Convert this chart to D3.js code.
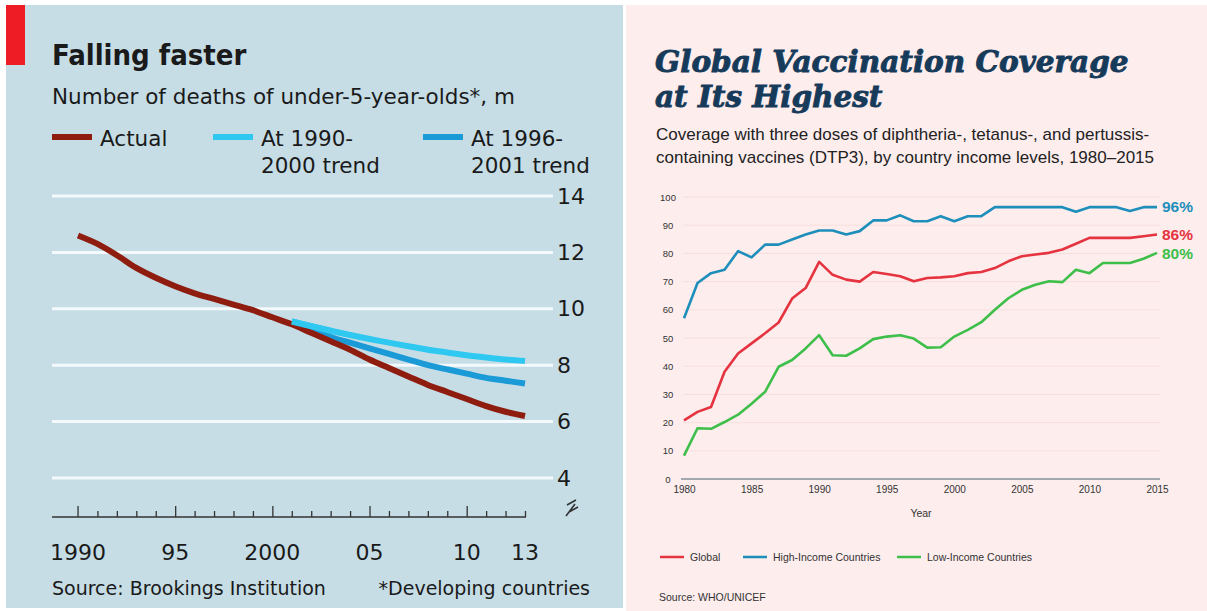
<!DOCTYPE html>
<html>
<head>
<meta charset="utf-8">
<script src="https://cdn.jsdelivr.net/npm/d3@7"></script>
<style>
    body { margin: 0; background: #ffffff; }
    svg { display: block; }
</style>
</head>
<body>
<div id="graph"></div>
<script>
// Left chart: under-5 deaths, millions
const yearsL = [1990, 1991, 1992, 1993, 1994, 1995, 1996, 1997, 1998, 1999, 2000, 2001,
    2002, 2003, 2004, 2005, 2006, 2007, 2008, 2009, 2010, 2011, 2012, 2013];
const actual = [12.6, 12.3, 11.9, 11.45, 11.1, 10.8, 10.55, 10.35, 10.15, 9.95, 9.7, 9.45,
    9.15, 8.85, 8.55, 8.2, 7.9, 7.6, 7.3, 7.05, 6.8, 6.55, 6.35, 6.2];
const trendYears = [2001, 2002, 2003, 2004, 2005, 2006, 2007, 2008, 2009, 2010, 2011, 2012, 2013];
const trend9000 = [9.55, 9.38, 9.22, 9.07, 8.93, 8.8, 8.67, 8.55, 8.45, 8.35, 8.27, 8.2, 8.15];
const trend9601 = [9.5, 9.25, 9.0, 8.8, 8.6, 8.4, 8.2, 8.0, 7.85, 7.7, 7.55, 7.45, 7.35];
const yTicksL = [4, 6, 8, 10, 12, 14];
const xLabelsL = [[1990, "1990"], [1995, "95"], [2000, "2000"], [2005, "05"], [2010, "10"], [2013, "13"]];

// Right chart: DTP3 coverage, %
const yearsR = d3.range(1980, 2016);
const globalCov = [20.8, 23.8, 25.5, 38, 44.5, 48.1, 51.7, 55.5, 64, 67.7, 77, 72.4, 70.7, 70,
    73.4, 72.7, 71.9, 70.1, 71.3, 71.5, 71.9, 73, 73.4, 74.8, 77.2, 79, 79.6, 80.2, 81.4, 83.4,
    85.5, 85.5, 85.5, 85.5, 86.1, 86.7];
const highCov = [57, 69.5, 73, 74.2, 80.8, 78.6, 83.1, 83.1, 84.9, 86.7, 88.1, 88.1, 86.7, 87.9,
    91.7, 91.7, 93.5, 91.4, 91.4, 93.2, 91.4, 93.2, 93.2, 96.4, 96.4, 96.4, 96.4, 96.4, 96.4, 94.8,
    96.4, 96.4, 96.4, 95, 96.4, 96.4];
const lowCov = [8.3, 18, 17.8, 20.2, 22.8, 26.7, 30.9, 39.8, 42.2, 46.3, 51, 43.9, 43.7, 46.3,
    49.6, 50.5, 51, 49.8, 46.6, 46.7, 50.5, 52.9, 55.6, 60, 64.1, 67.1, 68.9, 70.1, 69.8, 74.2,
    73, 76.6, 76.6, 76.6, 78.1, 80.2];
const yTicksR = [0, 10, 20, 30, 40, 50, 60, 70, 80, 90, 100];
const xTicksR = [1980, 1985, 1990, 1995, 2000, 2005, 2010, 2015];

const econFont = "'DejaVu Sans', sans-serif";
const econTitle = "'DejaVu Sans Condensed', 'DejaVu Sans', sans-serif";
const helv = "'Liberation Sans', Arial, sans-serif";

let svg = d3.select("#graph")
    .append("svg")
    .attr("width", 1207)
    .attr("height", 611);

// ---------------- left panel ----------------
svg.append("rect").attr("x", 6).attr("y", 5).attr("width", 617).attr("height", 603).attr("fill", "#c6dde6");
svg.append("rect").attr("x", 6).attr("y", 5).attr("width", 19).attr("height", 60).attr("fill", "#ee1c25");

let left = svg.append("g");

left.append("text").attr("x", 52).attr("y", 65)
    .style("font-family", econTitle).style("font-weight", "bold").style("font-size", "29px")
    .attr("fill", "#1a1a1a").text("Falling faster");
left.append("text").attr("x", 52).attr("y", 104)
    .style("font-family", econFont).style("font-size", "21.5px")
    .attr("fill", "#1a1a1a").text("Number of deaths of under-5-year-olds*, m");

let xL = d3.scaleLinear().domain([1990, 2013]).range([78, 525]);
let yL = d3.scaleLinear().domain([4, 14]).range([478, 196]);

// gridlines
left.selectAll(".gridL").data(yTicksL).enter().append("line")
    .attr("x1", 52).attr("x2", 553)
    .attr("y1", d => yL(d)).attr("y2", d => yL(d))
    .attr("stroke", "#f4f9fb").attr("stroke-width", 3);

// y axis labels on the right
let yAxisL = d3.axisRight(yL).tickValues(yTicksL).tickSize(0).tickPadding(0);
left.append("g").attr("transform", "translate(557,0)").call(yAxisL)
    .call(g => g.select(".domain").remove())
    .selectAll("text")
    .style("font-family", econFont).style("font-size", "22px").attr("fill", "#1a1a1a");

// x axis with yearly ticks
let xAxisL = d3.axisTop(xL).tickValues(d3.range(1991, 2014)).tickSize(6).tickFormat("");
left.append("g").attr("transform", "translate(0,517)").call(xAxisL)
    .call(g => g.select(".domain").remove())
    .selectAll("line").attr("stroke", "#333").attr("stroke-width", 1.3)
    .attr("y2", d => d % 5 === 0 ? -11 : -6);
left.append("line").attr("x1", 52).attr("x2", xL(2013) + 1).attr("y1", 517).attr("y2", 517)
    .attr("stroke", "#333").attr("stroke-width", 1.5);
left.append("line").attr("x1", xL(1991) - 19.4).attr("x2", xL(1991) - 19.4).attr("y1", 517).attr("y2", 506)
    .attr("stroke", "#333").attr("stroke-width", 1.3);

left.selectAll(".xlabL").data(xLabelsL).enter().append("text")
    .attr("x", d => xL(d[0])).attr("y", 560)
    .attr("text-anchor", "middle")
    .style("font-family", econFont).style("font-size", "22px").attr("fill", "#1a1a1a")
    .text(d => d[1]);

// axis break mark
left.append("path")
    .attr("d", "M567,505 L576,500 M566,516 L575,504 L569,512 L578,507")
    .attr("fill", "none").attr("stroke", "#333").attr("stroke-width", 1.6);

let lineL = d3.line().curve(d3.curveMonotoneX).x(d => xL(d[0])).y(d => yL(d[1]));

left.append("path").datum(trendYears.map((y, i) => [y, trend9000[i]]))
    .attr("d", lineL).attr("fill", "none").attr("stroke", "#2fc8f0").attr("stroke-width", 6);
left.append("path").datum(trendYears.map((y, i) => [y, trend9601[i]]))
    .attr("d", lineL).attr("fill", "none").attr("stroke", "#1a9ad6").attr("stroke-width", 6);
left.append("path").datum(yearsL.map((y, i) => [y, actual[i]]))
    .attr("d", lineL).attr("fill", "none").attr("stroke", "#8e1d10").attr("stroke-width", 6);
// trend lines start on top of the actual line
left.append("path").datum(trendYears.slice(0, 3).map((y, i) => [y, trend9000[i]]))
    .attr("d", lineL).attr("fill", "none").attr("stroke", "#2fc8f0").attr("stroke-width", 6);

// legend
const legendL = [
    {x: 52, color: "#8e1d10", lines: ["Actual"]},
    {x: 213, color: "#2fc8f0", lines: ["At 1990-", "2000 trend"]},
    {x: 423, color: "#1a9ad6", lines: ["At 1996-", "2001 trend"]}
];
legendL.forEach(function (d) {
    left.append("line").attr("x1", d.x).attr("x2", d.x + 40).attr("y1", 137).attr("y2", 137)
        .attr("stroke", d.color).attr("stroke-width", 6);
    d.lines.forEach(function (t, i) {
        left.append("text").attr("x", d.x + 48).attr("y", 146 + i * 27)
            .style("font-family", econFont).style("font-size", "21.5px").attr("fill", "#1a1a1a")
            .text(t);
    });
});

left.append("text").attr("x", 52).attr("y", 595)
    .style("font-family", econFont).style("font-size", "19px").attr("fill", "#1a1a1a")
    .text("Source: Brookings Institution");
left.append("text").attr("x", 590).attr("y", 595).attr("text-anchor", "end")
    .style("font-family", econFont).style("font-size", "19px").attr("fill", "#1a1a1a")
    .text("*Developing countries");

// ---------------- right panel ----------------
svg.append("rect").attr("x", 626).attr("y", 5).attr("width", 581).attr("height", 606).attr("fill", "#fdeded");

let right = svg.append("g");

const titleFont = "'DejaVu Serif', serif";
["Global Vaccination Coverage", "at Its Highest"].forEach(function (t, i) {
    right.append("text").attr("x", 655).attr("y", 72 + i * 35)
        .style("font-family", titleFont).style("font-weight", "bold").style("font-style", "italic")
        .style("font-size", "29.5px").attr("fill", "#163a59")
        .attr("stroke", "#163a59").attr("stroke-width", 0.9)
        .text(t);
});
right.append("text").attr("x", 656).attr("y", 140)
    .style("font-family", helv).style("font-size", "17px").attr("fill", "#222")
    .text("Coverage with three doses of diphtheria-, tetanus-, and pertussis-");
right.append("text").attr("x", 656).attr("y", 163)
    .style("font-family", helv).style("font-size", "17px").attr("fill", "#222")
    .text("containing vaccines (DTP3), by country income levels, 1980\u20132015");

let xR = d3.scaleLinear().domain([1980, 2015]).range([684, 1157]);
let yR = d3.scaleLinear().domain([0, 100]).range([479, 197]);

right.selectAll(".gridR").data(yTicksR.slice(1)).enter().append("line")
    .attr("x1", 683).attr("x2", 1160)
    .attr("y1", d => yR(d)).attr("y2", d => yR(d))
    .attr("stroke", "#f7dede").attr("stroke-width", 1);

let yAxisR = d3.axisLeft(yR).tickValues(yTicksR).tickSize(0).tickPadding(0);
right.append("g").attr("transform", "translate(668,0)").call(yAxisR)
    .call(g => g.select(".domain").remove())
    .selectAll("text")
    .attr("text-anchor", "middle")
    .style("font-family", helv).style("font-size", "9.5px").attr("fill", "#333");

let xAxisR = d3.axisBottom(xR).tickValues(xTicksR).tickSize(0).tickPadding(7).tickFormat(d3.format("d"));
right.append("g").attr("transform", "translate(0,479)").call(xAxisR)
    .call(g => g.select(".domain").remove())
    .selectAll("text")
    .style("font-family", helv).style("font-size", "10px").attr("fill", "#333");
right.append("line").attr("x1", 681).attr("x2", 1160).attr("y1", 479).attr("y2", 479)
    .attr("stroke", "#a3a7ae").attr("stroke-width", 2);

right.append("text").attr("x", 921).attr("y", 517).attr("text-anchor", "middle")
    .style("font-family", helv).style("font-size", "10.5px").attr("fill", "#333")
    .text("Year");

let lineR = d3.line().x((d, i) => xR(yearsR[i])).y(d => yR(d));
const seriesR = [
    {name: "Global", values: globalCov, color: "#e5333f", label: "86%", dy: 0},
    {name: "High-Income Countries", values: highCov, color: "#1e8fbb", label: "96%", dy: 0},
    {name: "Low-Income Countries", values: lowCov, color: "#3dbf4a", label: "80%", dy: 1}
];
seriesR.forEach(function (s) {
    right.append("path").datum(s.values).attr("d", lineR)
        .attr("fill", "none").attr("stroke", s.color).attr("stroke-width", 2.6)
        .attr("stroke-linejoin", "round");
    right.append("text").attr("x", 1162).attr("y", yR(s.values[s.values.length - 1]) + 5 + s.dy)
        .style("font-family", helv).style("font-weight", "bold").style("font-size", "15.5px")
        .attr("fill", s.color).text(s.label);
});

// legend
const legendR = [
    {x: 660, color: "#e5333f", text: "Global"},
    {x: 743, color: "#1e8fbb", text: "High-Income Countries"},
    {x: 897, color: "#3dbf4a", text: "Low-Income Countries"}
];
legendR.forEach(function (d) {
    right.append("line").attr("x1", d.x).attr("x2", d.x + 24).attr("y1", 557).attr("y2", 557)
        .attr("stroke", d.color).attr("stroke-width", 2.5);
    right.append("text").attr("x", d.x + 30).attr("y", 561)
        .style("font-family", helv).style("font-size", "10.5px").attr("fill", "#333")
        .text(d.text);
});

right.append("text").attr("x", 659).attr("y", 601)
    .style("font-family", helv).style("font-size", "10.5px").attr("fill", "#333")
    .text("Source: WHO/UNICEF");
</script>
</body>
</html>
